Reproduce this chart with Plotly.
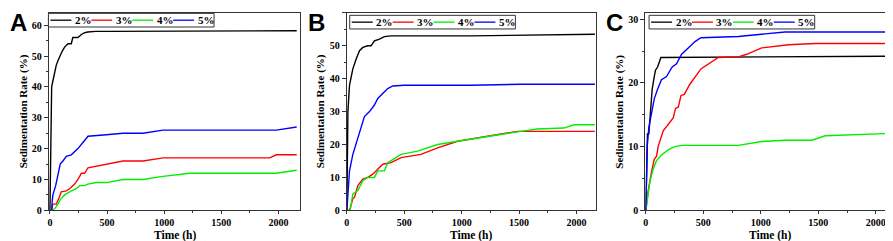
import plotly.graph_objects as go

W, H = 893, 241

labels = ["2%", "3%", "4%", "5%"]
colors = ["#000000", "#ff0000", "#00ee00", "#0000ff"]

# Panel A
tA2 = [0, 4, 8, 15, 26, 41, 55, 70, 85, 100, 114, 130, 158, 187, 200, 245, 275, 300, 330, 400, 500, 1000, 1500, 2000, 2160]
yA2 = [0, 18, 30, 40, 42, 45, 47, 48.5, 50, 51, 52, 53, 54, 54, 56, 56, 57, 57.5, 57.8, 58, 58, 58, 58, 58, 58.2]
tA3 = [0, 12, 26, 55, 79, 99, 143, 172, 216, 245, 275, 304, 333, 493, 639, 815, 990, 1924, 1982, 2160]
yA3 = [0, 0, 2, 2, 4, 6, 6.3, 7, 8.5, 10, 12, 12, 13.8, 15, 16, 16, 17, 17, 18, 18]
tA4 = [0, 12, 41, 70, 90, 128, 187, 230, 260, 304, 333, 406, 493, 639, 815, 990, 1223, 1982, 2160]
yA4 = [0, 0, 0.5, 2, 3.5, 5, 6.3, 7, 8, 8, 8.5, 9, 9, 10, 10, 11, 12, 12, 13]
tA5 = [0, 15, 20, 26, 50, 70, 90, 114, 143, 187, 245, 289, 333, 493, 639, 815, 990, 1982, 2160]
yA5 = [0, 0, 3, 5, 8, 12, 15, 16, 17.5, 18, 20, 22, 24, 24.5, 25, 25, 26, 26, 27]

# Panel B
tB2 = [0, 5, 9, 23, 52, 81, 110, 139, 182, 211, 240, 284, 327, 385, 1080, 2160]
yB2 = [0, 20, 30, 38, 43, 46, 48.5, 49.5, 50, 50, 51.5, 52, 52.8, 53, 53, 53.5]
tB3 = [0, 23, 52, 67, 96, 139, 182, 226, 269, 313, 385, 472, 645, 790, 964, 1224, 1485, 2160]
yB3 = [0, 0, 3.5, 4, 7.5, 9.5, 10, 11, 12.5, 14, 14.5, 16, 17, 19, 21, 22.5, 24, 24]
tB4 = [0, 29, 52, 96, 139, 182, 240, 269, 327, 356, 428, 472, 617, 790, 964, 1224, 1514, 1659, 1890, 1977, 2160]
yB4 = [0, 0, 5, 6, 9, 10, 10, 12, 12, 14.5, 16, 17, 18, 20, 21, 22.5, 24, 24.7, 25, 26, 26]
tB5 = [0, 9, 23, 52, 96, 153, 197, 240, 269, 313, 356, 400, 500, 1080, 1514, 2160]
yB5 = [0, 5, 12, 17, 22, 28.5, 30, 32, 34, 35.5, 37, 37.8, 38, 38, 38.3, 38.3]

# Panel C
tC2 = [0, 14, 26, 41, 55, 73, 84, 102, 113, 131, 2160]
yC2 = [0, 12, 12, 16, 19, 21, 22, 22.5, 23, 24, 24.2]
tC3 = [0, 20, 49, 73, 93, 107, 151, 194, 238, 258, 282, 305, 334, 383, 479, 630, 804, 877, 1007, 1239, 1472, 2160]
yC3 = [0, 3, 6, 8, 8.5, 10, 12.5, 13.5, 14.5, 16, 16.2, 18, 18.2, 19.8, 22.2, 24, 24.1, 24.5, 25.5, 26, 26.2, 26.2]
tC4 = [0, 14, 35, 64, 93, 136, 194, 252, 311, 804, 1007, 1210, 1443, 1559, 2160]
yC4 = [0, 2, 4.5, 6.5, 7.8, 8.7, 9.5, 10, 10.2, 10.2, 10.8, 11, 11, 11.7, 12.1]
tC5 = [0, 12, 26, 49, 73, 102, 136, 180, 229, 267, 311, 369, 427, 479, 804, 1036, 1210, 2160]
yC5 = [0, 10, 13, 15, 17.5, 19, 20.5, 21, 22.5, 23, 24.5, 25.5, 26.5, 27.1, 27.3, 27.7, 28, 28]

panels = [
    dict(name="A", series=[(tA2, yA2), (tA3, yA3), (tA4, yA4), (tA5, yA5)],
         xpx=(39, 291), xr=[-9, 2192], yr=[0, 64], ydt=10, leg=(38.5, 5.5)),
    dict(name="B", series=[(tB2, yB2), (tB3, yB3), (tB4, yB4), (tB5, yB5)],
         xpx=(337.5, 587), xr=[-1, 2167], yr=[0, 60], ydt=10, leg=(340.5, 7.5)),
    dict(name="C", series=[(tC2, yC2), (tC3, yC3), (tC4, yC4), (tC5, yC5)],
         xpx=(636.7, 887.5), xr=[-5, 2171], yr=[0, 31], ydt=10, leg=(640.5, 7.5)),
]

ytop, ybot = 5, 207.5
def px(x):
    return x / W
def py(y):
    return 1 - y / H

SERIF = "Liberation Serif"
fig = go.Figure()
shapes, annots = [], []
for i, p in enumerate(panels):
    k = "" if i == 0 else str(i + 1)
    for (t, v), c, lab in zip(p["series"], colors, labels):
        fig.add_trace(go.Scatter(x=t, y=v, mode="lines", name=lab, showlegend=False,
                                 line=dict(color=c, width=1.4),
                                 xaxis="x" + k, yaxis="y" + k))
    axfont = dict(family=SERIF, size=10, color="black", weight="bold")
    fig.update_layout(**{
        "xaxis" + k: dict(domain=[px(p["xpx"][0]), px(p["xpx"][1])], range=p["xr"],
                           anchor="y" + k, showgrid=False, zeroline=False,
                           showline=True, linecolor="#333", linewidth=1.2, mirror=True,
                           ticks="outside", ticklen=3, tickwidth=1, tickcolor="#333",
                           dtick=500, tick0=0, tickfont=axfont,
                           minor=dict(ticks="outside", ticklen=2, dtick=250, tickcolor="#333")),
        "yaxis" + k: dict(domain=[py(ybot), py(ytop)], range=p["yr"],
                           anchor="x" + k, showgrid=False, zeroline=False,
                           showline=True, linecolor="#333", linewidth=1.2, mirror=True,
                           ticks="outside", ticklen=4, tickwidth=1, tickcolor="#333",
                           dtick=p["ydt"], tick0=0, tickfont=axfont,
                           minor=dict(ticks="outside", ticklen=2, dtick=5, tickcolor="#333")),
    })
    x0, x1 = p["xpx"]
    # axis titles
    annots.append(dict(x=px((x0 + x1) / 2), y=py(241), xref="paper", yref="paper",
                       text="Time (h)", showarrow=False, xanchor="center", yanchor="bottom",
                       font=dict(family=SERIF, size=11.5, color="black", weight="bold"),
                       borderpad=0))
    annots.append(dict(x=px(x0 - 26), y=py(106), xref="paper", yref="paper",
                       text="Sedimentation Rate (%)", showarrow=False, textangle=-90,
                       xanchor="center", yanchor="middle",
                       font=dict(family=SERIF, size=11, color="black", weight="bold")))
    # panel letter
    annots.append(dict(x=px(x0 - 40), y=py(0), xref="paper", yref="paper",
                       text="<b>%s</b>" % p["name"], showarrow=False, xanchor="left", yanchor="top",
                       font=dict(family="Liberation Sans", size=24, color="black"),
                       borderpad=0))
    # manual legend
    lx, ly = p["leg"]
    lw, lh = 166, 14
    shapes.append(dict(type="rect", xref="paper", yref="paper",
                       x0=px(lx), x1=px(lx + lw), y0=py(ly + lh), y1=py(ly),
                       line=dict(color="#333", width=1), fillcolor="white"))
    for j, (c, lab) in enumerate(zip(colors, labels)):
        sx = lx + 2 + 41 * j
        shapes.append(dict(type="line", xref="paper", yref="paper",
                           x0=px(sx), x1=px(sx + 21), y0=py(ly + lh / 2), y1=py(ly + lh / 2),
                           line=dict(color=c, width=1.3)))
        annots.append(dict(x=px(sx + 22.5), y=py(ly + lh / 2), xref="paper", yref="paper",
                           text=lab, showarrow=False, xanchor="left", yanchor="middle",
                           font=dict(family=SERIF, size=11, color="black", weight="bold")))

fig.update_layout(width=W, height=H, margin=dict(l=0, r=0, t=0, b=0),
                  plot_bgcolor="white", paper_bgcolor="white",
                  shapes=shapes, annotations=annots, showlegend=False)
fig.write_html("out.html")
